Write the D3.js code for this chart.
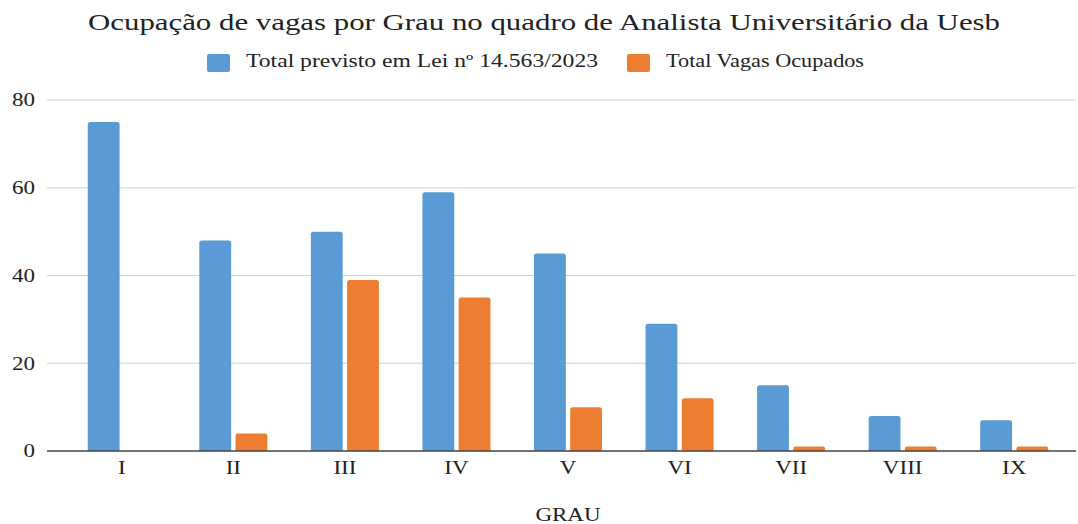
<!DOCTYPE html>
<html>
<head>
<meta charset="utf-8">
<script src="https://cdn.jsdelivr.net/npm/d3@7/dist/d3.min.js"></script>
<style>
  body { margin: 0; background: #fff; }
  text { font-family: "Liberation Serif", "Times New Roman", serif; fill: #222; }
</style>
</head>
<body>
<div id="vis"></div>
<script>
// data
var graus = ["I", "II", "III", "IV", "V", "VI", "VII", "VIII", "IX"];
var seriesNames = ["Total previsto em Lei nº 14.563/2023", "Total Vagas Ocupados"];
var previsto = [75, 48, 50, 59, 45, 29, 15, 8, 7];
var ocupados = [0, 4, 39, 35, 10, 12, 1, 1, 1];
var yTicks = [0, 20, 40, 60, 80];
var colors = ["#5b9bd5", "#ed7d31"];

var width = 1078, height = 524;
var plot = { left: 47, right: 1076, top: 100, bottom: 451 };
// the original picture is stretched sideways, so text gets widened too
var stretch = 1.28;

var svg = d3.select("#vis").append("svg")
  .attr("width", width)
  .attr("height", height);

var x0 = d3.scaleBand()
  .domain(graus)
  .range([66, 1070])
  .paddingInner(0.39)
  .paddingOuter(0.195);

var x1 = d3.scaleBand()
  .domain([0, 1])
  .range([0, x0.bandwidth()])
  .paddingInner(0.12);

var y = d3.scaleLinear()
  .domain([0, 80])
  .range([plot.bottom, plot.top]);

function place(x, y) {
  return "translate(" + x + "," + y + ") scale(" + stretch + ",1)";
}

// gridlines
svg.append("g")
  .selectAll("line")
  .data(yTicks.filter(function(d) { return d > 0; }))
  .join("line")
  .attr("x1", plot.left)
  .attr("x2", plot.right)
  .attr("y1", function(d) { return y(d); })
  .attr("y2", function(d) { return y(d); })
  .attr("stroke", "#d0d0d0")
  .attr("stroke-width", 1.2);

// y tick labels
svg.append("g")
  .selectAll("text")
  .data(yTicks)
  .join("text")
  .attr("transform", function(d) { return place(35, y(d)); })
  .attr("dy", "0.35em")
  .attr("text-anchor", "end")
  .style("font-size", "18px")
  .text(function(d) { return d; });

// bars with rounded top corners
function barPath(x, w, top, bottom) {
  var r = Math.min(2.5, (bottom - top) / 2, w / 2);
  return "M" + x + "," + bottom +
    "V" + (top + r) +
    "Q" + x + "," + top + " " + (x + r) + "," + top +
    "H" + (x + w - r) +
    "Q" + (x + w) + "," + top + " " + (x + w) + "," + (top + r) +
    "V" + bottom + "Z";
}

var rows = graus.map(function(g, i) {
  return { grau: g, values: [previsto[i], ocupados[i]] };
});

var groups = svg.append("g")
  .selectAll("g")
  .data(rows)
  .join("g")
  .attr("transform", function(d) { return "translate(" + x0(d.grau) + ",0)"; });

groups.selectAll("path")
  .data(function(d) { return d.values.map(function(v, k) { return { k: k, v: v }; }); })
  .join("path")
  .filter(function(d) { return d.v > 0; })
  .attr("fill", function(d) { return colors[d.k]; })
  .attr("d", function(d) {
    return barPath(x1(d.k), x1.bandwidth(), y(d.v), y(0));
  });

// baseline
svg.append("line")
  .attr("x1", plot.left)
  .attr("x2", plot.right)
  .attr("y1", y(0))
  .attr("y2", y(0))
  .attr("stroke", "#444")
  .attr("stroke-width", 1.5);

// x labels
svg.append("g")
  .selectAll("text")
  .data(graus)
  .join("text")
  .attr("transform", function(d) { return place(x0(d) + x0.bandwidth() / 2, 474); })
  .attr("text-anchor", "middle")
  .style("font-size", "18px")
  .text(function(d) { return d; });

// axis title
svg.append("text")
  .attr("transform", place(568, 521))
  .attr("text-anchor", "middle")
  .style("font-size", "18px")
  .text("GRAU");

// title
svg.append("text")
  .attr("x", 88)
  .attr("y", 30)
  .attr("textLength", 912)
  .attr("lengthAdjust", "spacingAndGlyphs")
  .style("font-size", "23px")
  .text("Ocupação de vagas por Grau no quadro de Analista Universitário da Uesb");

// legend
var legendX = [207, 627];
var legendLen = [352, 198];
var legend = svg.append("g")
  .selectAll("g")
  .data(seriesNames)
  .join("g")
  .attr("transform", function(d, i) { return "translate(" + legendX[i] + ",54)"; });

legend.append("rect")
  .attr("width", 23)
  .attr("height", 18)
  .attr("rx", 2)
  .attr("fill", function(d, i) { return colors[i]; });

legend.append("text")
  .attr("x", 39)
  .attr("y", 13)
  .attr("textLength", function(d, i) { return legendLen[i]; })
  .attr("lengthAdjust", "spacingAndGlyphs")
  .style("font-size", "18px")
  .text(function(d) { return d; });
</script>
</body>
</html>
